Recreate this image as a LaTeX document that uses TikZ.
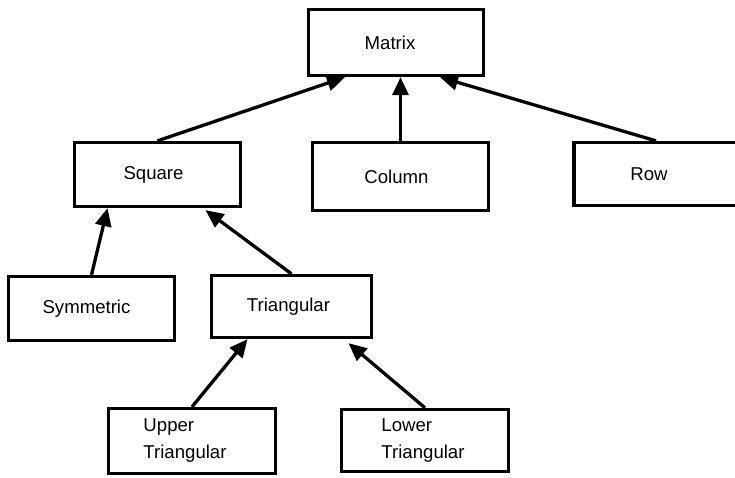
\documentclass[tikz,border=0pt]{standalone}
\usepackage{fontspec}
\setmainfont{Liberation Sans}
\usetikzlibrary{arrows.meta}
\usetikzlibrary{positioning}
\tikzset{box/.style = {draw, line width = 3.3pt, inner sep = 0, font = \fontsize{18.6}{27}\selectfont}}
\tikzset{link/.style = {line width = 3.3pt, -{Triangle[length = 18pt, width = 16pt]}}}

\begin{document}
\begin{tikzpicture}[x = 1pt, y = -1pt]
      \useasboundingbox (0, 0) rectangle (735, 478);

      \node [box, minimum width = 175, minimum height = 66] (mat) at (396, 42.5) {Matrix\hspace*{12pt}};

      \node [box, minimum width = 166, minimum height = 64] (sq) at (157.5, 174.5) {Square\hspace*{8pt}};
      \node [box, minimum width = 176, minimum height = 68] (col) at (400.5, 176.5) {Column\hspace*{8pt}};
      \node [box, minimum width = 164, minimum height = 63] (row) at (656, 174) {Row\hspace*{14pt}};

      \node [box, minimum width = 166, minimum height = 64] (sym) at (91.5, 308.5) {Symmetric\hspace*{10pt}};
      \node [box, minimum width = 160, minimum height = 62] (tri) at (291.5, 306.5) {Triangular\hspace*{6pt}};

      \node [box, minimum width = 167, minimum height = 65, align = left] (up) at (192, 441) {Upper\\Triangular\hspace*{14pt}};
      \node [box, minimum width = 167, minimum height = 62, align = left] (lo) at (425, 440.5) {Lower\\Triangular\hspace*{4pt}};

      \draw [link] (sq.north) -- ([xshift = -51]mat.south);
      \draw [link] (col.north) -- (col.north |- mat.south);
      \draw [link] (row.north) -- ([xshift = 44]mat.south);

      \draw [link] (sym.north) -- ([xshift = -50]sq.south);
      \draw [link] (tri.north) -- ([xshift = 48, yshift = -2]sq.south);

      \draw [link] (up.north) -- ([xshift = -44]tri.south);
      \draw [link] (lo.north) -- ([xshift = 57, yshift = -4]tri.south);
    \end{tikzpicture}
\end{document}
